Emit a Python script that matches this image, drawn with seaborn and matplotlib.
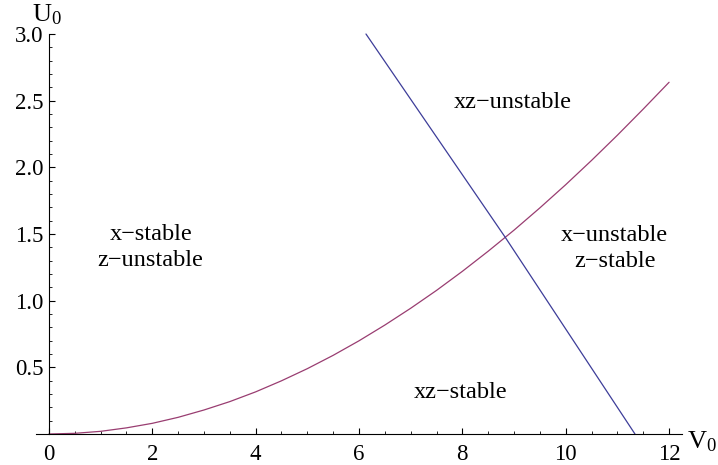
import matplotlib
matplotlib.use("Agg")
import matplotlib.pyplot as plt
from matplotlib.ticker import MultipleLocator, FixedLocator
import seaborn as sns
import pandas as pd

# Curve 1 (purple-red): boundary for x-stability
v_curve = [0, 0.5, 1, 1.5, 2, 2.5, 3, 3.5, 4, 4.5, 5, 5.5, 6, 6.5, 7, 7.5, 8, 8.5,
           9, 9.5, 10, 10.5, 11, 11.5, 12]
u_curve = [0.0, 0.005, 0.020, 0.046, 0.080, 0.125, 0.180, 0.243, 0.316, 0.399, 0.490,
           0.590, 0.699, 0.817, 0.943, 1.077, 1.220, 1.371, 1.529, 1.696, 1.870,
           2.052, 2.241, 2.437, 2.638]

# Curve 2 (blue): boundary for z-stability
v_line = [6.135, 8.83, 11.34]
u_line = [3.0, 1.475, 0.0]

x_ticks = [0, 2, 4, 6, 8, 10, 12]
y_ticks = [0.5, 1.0, 1.5, 2.0, 2.5, 3.0]

regions = ["x\u2212stable\nz\u2212unstable", "xz\u2212unstable", "x\u2212unstable\nz\u2212stable", "xz\u2212stable"]
region_v = [1.97, 8.98, 10.95, 7.97]
region_u = [1.40, 2.49, 1.39, 0.31]

sns.set_theme(style="white")
plt.rcParams['font.family'] = ['Liberation Serif', 'DejaVu Serif']
plt.rcParams['mathtext.fontset'] = 'custom'
plt.rcParams['mathtext.rm'] = 'Liberation Serif'
plt.rcParams['mathtext.it'] = 'Liberation Serif'

fig = plt.figure(figsize=(7.18, 4.65), dpi=100)
ax = fig.add_axes([36/718, 31/465, 646/718, 400/465])

df1 = pd.DataFrame({"V": v_curve, "U": u_curve})
df2 = pd.DataFrame({"V": v_line, "U": u_line})
sns.lineplot(data=df1, x="V", y="U", ax=ax, color="#993d71", linewidth=0.9, sort=False, clip_on=False)
sns.lineplot(data=df2, x="V", y="U", ax=ax, color="#3d3d99", linewidth=0.9, sort=False, clip_on=False)

ax.set_xlim(-0.25, 12.25)
ax.set_ylim(0, 3.0)
ax.set_xlabel("")
ax.set_ylabel("")

for s in ["top", "right"]:
    ax.spines[s].set_visible(False)
ax.spines["left"].set_position(("data", 0))
ax.spines["bottom"].set_position(("data", 0))
ax.spines["left"].set_bounds(0, 3.0)
for s in ["left", "bottom"]:
    ax.spines[s].set_color("black")
    ax.spines[s].set_linewidth(0.8)

ax.xaxis.set_major_locator(FixedLocator(x_ticks))
ax.xaxis.set_minor_locator(MultipleLocator(0.5))
ax.yaxis.set_major_locator(FixedLocator(y_ticks))
ax.yaxis.set_minor_locator(MultipleLocator(0.1))
ax.set_xticklabels([str(t) for t in x_ticks])
ax.set_yticklabels([f"{t:.1f}" for t in y_ticks])

ax.tick_params(axis="x", which="major", direction="in", length=4.5, width=0.8, colors="black",
               labelsize=16.5, pad=7, bottom=True)
ax.tick_params(axis="x", which="minor", direction="in", length=2.5, width=0.6, colors="black", bottom=True)
ax.tick_params(axis="y", which="major", direction="in", length=4.5, width=0.8, colors="black",
               labelsize=16.5, pad=4, left=True)
ax.tick_params(axis="y", which="minor", direction="in", length=2.5, width=0.6, colors="black", left=True)

for txt, xv, yv in zip(regions, region_v, region_u):
    ax.text(xv, yv, txt, ha="center", va="center", fontsize=17.5, linespacing=1.3, color="black")

fig.text(47/718, 1 - 15/465, r"$\mathrm{U}_0$", ha="center", va="center", fontsize=19, color="black")
fig.text(702/718, 1 - 442/465, r"$\mathrm{V}_0$", ha="center", va="center", fontsize=19, color="black")

fig.savefig("out.png", dpi=100)
